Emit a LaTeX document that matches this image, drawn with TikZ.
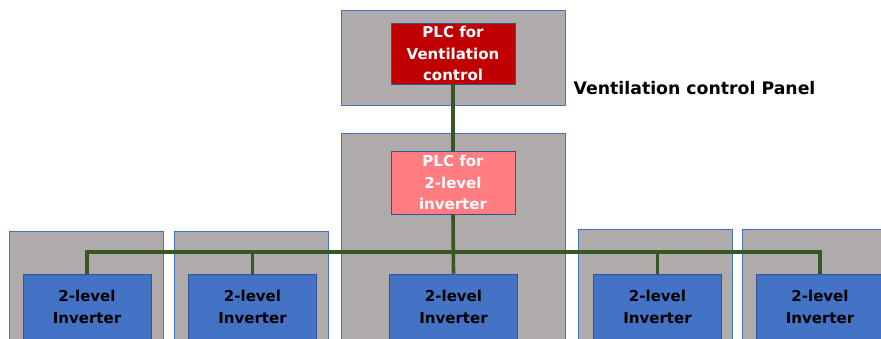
\documentclass[tikz,border=0pt]{standalone}
\usepackage{fontspec}
\newfontfamily\diagfont{DejaVu Sans}
\definecolor{panelgrey}{RGB}{175,171,171}
\definecolor{paneledge}{RGB}{68,114,196}
\definecolor{plcred}{RGB}{192,0,0}
\definecolor{plcpink}{RGB}{255,124,128}
\definecolor{invblue}{RGB}{68,114,196}
\definecolor{invedge}{RGB}{47,85,151}
\definecolor{busgreen}{RGB}{56,87,35}
\tikzset{
  panel/.style={draw=paneledge, fill=panelgrey, line width=0.8pt, inner sep=0pt},
  box/.style={draw=invedge, line width=0.8pt, inner sep=0pt, align=center,
    font=\diagfont\bfseries\fontsize{15}{21.5}\selectfont},
  plcbox/.style={box, text=white},
  invbox/.style={box, fill=invblue, text=black, minimum width=128pt, minimum height=66pt},
  bus/.style={draw=busgreen, line width=3.6pt},
}
\begin{document}
\begin{tikzpicture}[x=1pt, y=-1pt]
\clip (0,0) rectangle (881,338);
\fill[white] (0,0) rectangle (881,338);

% cabinets
\node[panel, minimum width=224pt, minimum height=95pt] (ventpanel) at (453,57.5) {};
\node[panel, minimum width=224pt, minimum height=230pt] (midpanel) at (453,248) {};
\node[panel, minimum width=154pt, minimum height=130pt] (panA) at (86,296) {};
\node[panel, minimum width=154pt, minimum height=130pt] (panB) at (251,296) {};
\node[panel, minimum width=154pt, minimum height=130pt] (panD) at (655,294) {};
\node[panel, minimum width=154pt, minimum height=130pt] (panE) at (819,294) {};

% controllers
\node[plcbox, fill=plcred, minimum width=124pt, minimum height=61pt] (plcvent) at (453,53.5)
  {PLC for\\Ventilation\\control};
\node[plcbox, fill=plcpink, minimum width=124pt, minimum height=63pt] (plcinv) at (453,182.5)
  {PLC for\\2-level\\inverter};

% inverters
\node[invbox] (invA) at (87,307) {2-level\\Inverter};
\node[invbox] (invB) at (252.5,307) {2-level\\Inverter};
\node[invbox] (invC) at (453.5,307) {2-level\\Inverter};
\node[invbox] (invD) at (657.5,307) {2-level\\Inverter};
\node[invbox] (invE) at (820,307) {2-level\\Inverter};

\node[font=\diagfont\bfseries\fontsize{17.3}{20}\selectfont, anchor=west, inner sep=0pt]
  (ventlabel) at (573.5,88) {Ventilation control Panel};

% communication lines
\coordinate (busy) at (453,252);
\draw[bus] (plcvent.south) -- (plcinv.north);
\draw[bus] (plcinv.south) -- (invC.north);
\draw[bus] (invA.north) |- (busy) -| (invE.north);
\draw[bus] (invB.north) -- (invB.north |- busy);
\draw[bus] (invD.north) -- (invD.north |- busy);
\end{tikzpicture}
\end{document}
